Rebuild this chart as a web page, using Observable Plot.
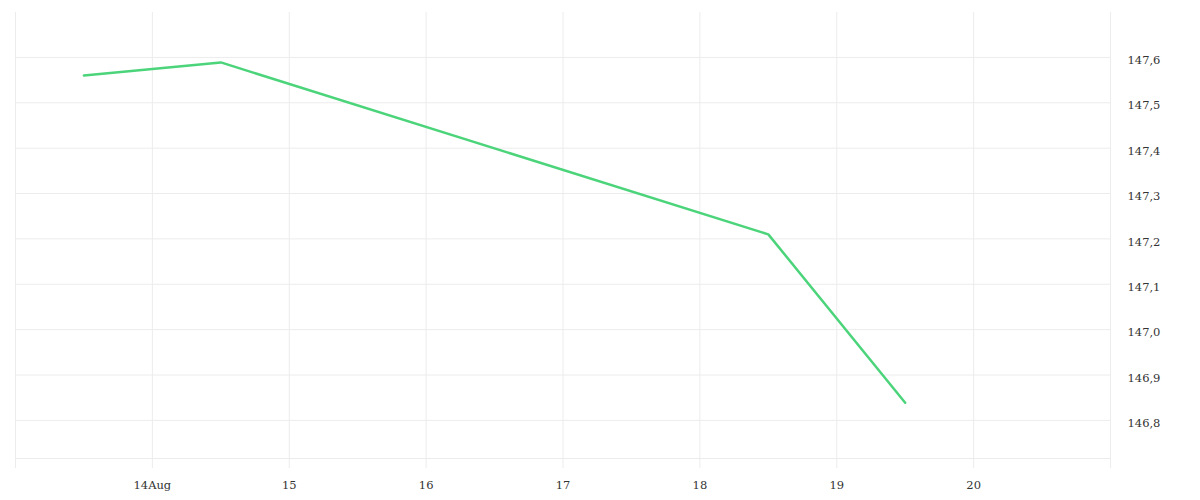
<!DOCTYPE html>
<html>
<head>
<meta charset="utf-8">
<script src="https://cdn.jsdelivr.net/npm/d3@7"></script>
<script src="https://cdn.jsdelivr.net/npm/@observablehq/plot@0.6"></script>
<style>
  html, body { margin: 0; padding: 0; background: #fff; }
  svg { display: block; }
</style>
</head>
<body>
<div id="chart"></div>
<script>
const dates = ["2025-08-13T12:00Z", "2025-08-14T12:00Z", "2025-08-18T12:00Z", "2025-08-19T12:00Z"];
const values = [147.56, 147.589, 147.21, 146.839];
const xDomain = ["2025-08-13T00:00Z", "2025-08-21T00:00Z"];
const yDomain = [146.716, 147.699];
const yTicks = [146.8, 146.9, 147.0, 147.1, 147.2, 147.3, 147.4, 147.5, 147.6];
const dayTicks = ["2025-08-13", "2025-08-14", "2025-08-15", "2025-08-16", "2025-08-17", "2025-08-18", "2025-08-19", "2025-08-20", "2025-08-21"];
const labelTicks = ["2025-08-14", "2025-08-15", "2025-08-16", "2025-08-17", "2025-08-18", "2025-08-19", "2025-08-20"];

const data = dates.map((d, i) => ({date: new Date(d), value: values[i]}));
const days = dayTicks.map(d => new Date(d + "T00:00Z"));
const labelDays = labelTicks.map(d => new Date(d + "T00:00Z"));

const font = "DejaVu Serif";
const chart = Plot.plot({
  width: 1200,
  height: 500,
  marginLeft: 15,
  marginRight: 90,
  marginTop: 12,
  marginBottom: 42,
  style: {fontFamily: font, fontSize: "11.5px", color: "#333", background: "#fff"},
  x: {type: "utc", domain: xDomain.map(d => new Date(d)), axis: null},
  y: {domain: yDomain, axis: null},
  marks: [
    Plot.ruleY(yTicks, {stroke: "#ececec", strokeWidth: 1}),
    Plot.frame({anchor: "bottom", stroke: "#ececec"}),
    Plot.ruleX(days, {stroke: "#ececec", strokeWidth: 1, insetBottom: -10}),
    Plot.line(data, {x: "date", y: "value", stroke: "#4cd47b", strokeWidth: 2.5, curve: "linear"}),
    Plot.axisY(yTicks, {anchor: "right", label: null, tickSize: 0, tickPadding: 17, textAnchor: "start", dy: 3,
      tickFormat: d => d.toFixed(1).replace(".", ","), fill: "#333", fontSize: 11.5}),
    Plot.axisX(labelDays, {anchor: "bottom", label: null, tickSize: 0, tickPadding: 22, fill: "#333", fontSize: 11.5,
      tickFormat: (d, i) => i === 0 ? d.getUTCDate() + "Aug" : String(d.getUTCDate())})
  ]
});
document.getElementById("chart").appendChild(chart);
</script>
</body>
</html>
